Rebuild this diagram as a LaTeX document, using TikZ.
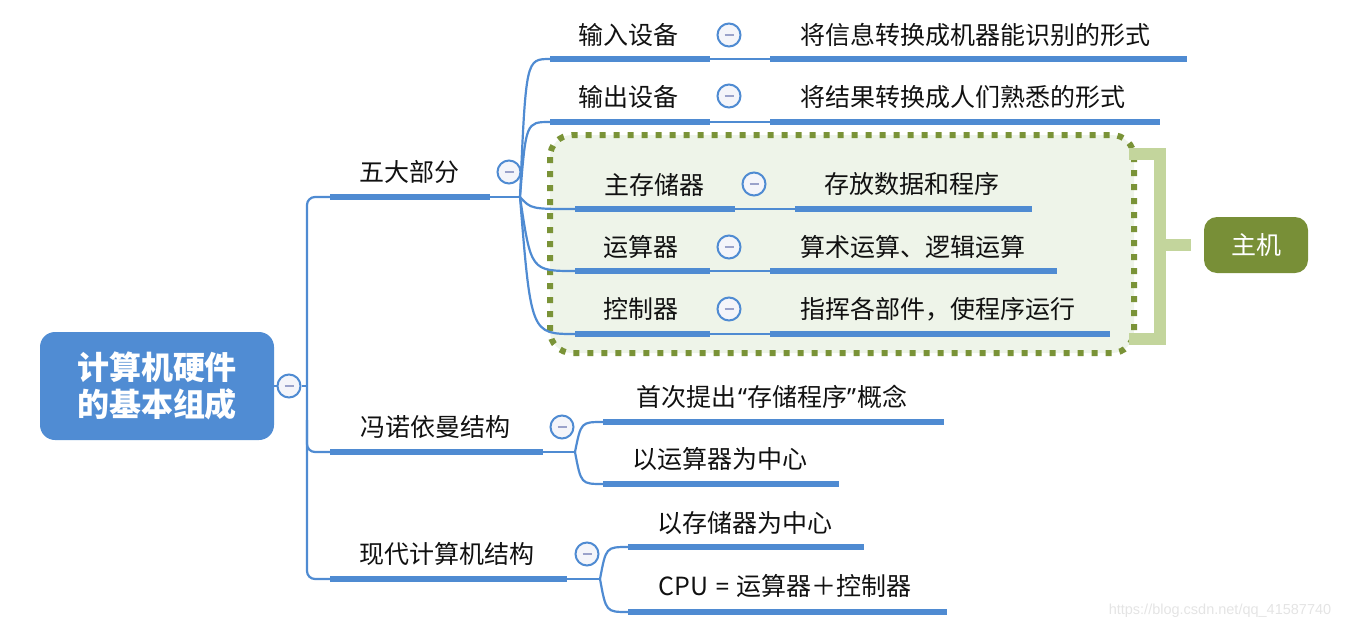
\documentclass[tikz,border=0pt]{standalone}
\usepackage{fontspec}
\newfontfamily\cjk{Noto Sans CJK SC}
\newfontfamily\latn{Noto Sans}
\newfontfamily\wmfont{Liberation Sans}
\definecolor{mblue}{HTML}{4F8BD2}
\definecolor{rootblue}{HTML}{508CD3}
\definecolor{minusc}{HTML}{9AA2CA}
\definecolor{colfill}{HTML}{F4F5FA}
\definecolor{boxfill}{HTML}{EEF4E9}
\definecolor{boxdot}{HTML}{7A9337}
\definecolor{brkc}{HTML}{C3D59C}
\definecolor{hostc}{HTML}{788F37}
\definecolor{txt}{HTML}{111111}
\definecolor{wmc}{HTML}{E4E4E4}
\begin{document}
\begin{tikzpicture}[x=1pt,y=-1pt,
  lbl/.style={font=\cjk\fontsize{25}{30}\selectfont, text=txt, inner sep=0pt},
  bar/.style={line width=6.5pt, draw=mblue, line cap=butt},
  link/.style={line width=2.2pt, draw=mblue},
  col/.style={circle, draw=mblue, line width=2pt, fill=colfill, minimum size=23pt, inner sep=0pt,
    path picture={\draw[line width=2.6pt, minusc] ([xshift=-4.5pt]path picture bounding box.center) -- ([xshift=4.5pt]path picture bounding box.center);}},
  rootbox/.style={rounded corners=15pt, fill=rootblue, minimum width=234pt, minimum height=108pt, text=white, align=center,
    font=\cjk\bfseries\fontsize{32}{36}\selectfont},
  hostbox/.style={rounded corners=13pt, fill=hostc, minimum width=104pt, minimum height=56pt, text=white,
    font=\cjk\fontsize{25}{30}\selectfont},
  dotbox/.style={draw=boxdot, fill=boxfill, line width=6pt, dash pattern=on 6pt off 8pt, rounded corners=22pt},
  brk/.style={draw=brkc, line width=12pt, line join=miter},
  wm/.style={font=\wmfont\fontsize{14.5}{16}\selectfont, text=wmc, inner sep=0pt}]
\useasboundingbox (0,0) rectangle (1350,630);

% highlighted group and summary
\draw[dotbox] (550,135) rectangle (1134,353);
\node[hostbox] (host) at (1256,245) {主机};
\draw[brk] (1129,154) -- (1160,154) -- (1160,339) -- (1129,339);
\coordinate (brkmid) at (1160,245);
\draw[brk, shorten >=13pt] (brkmid) -- (host.west);

% root
\node[rootbox] (root) at (157,386) {计算机硬件\\[1pt]的基本组成};
\node[col] (rc) at (289,386) {};
\draw[link] (root.east) -- (rc.west);

% trunk
\coordinate (A0) at (330,197); \coordinate (A1) at (490,197);
\coordinate (B0) at (330,452); \coordinate (B1) at (543,452);
\coordinate (C0) at (330,579); \coordinate (C1) at (567,579);
\draw[link, rounded corners=8pt] (A0) -- (307,197) -- (307,579) -- (C0);
\draw[link] (rc.east) -- (307,386);
\draw[link, rounded corners=8pt] (307,420) -- (307,452) -- (B0);

% level 1
\node[lbl] (tA) at (409,172) {五大部分};
\node[lbl] (tB) at (435,427) {冯诺依曼结构};
\node[lbl] (tC) at (447,554) {现代计算机结构};
\draw[bar] (A0) -- (A1);
\draw[bar] (B0) -- (B1);
\draw[bar] (C0) -- (C1);
\coordinate (bA) at (520,197);
\coordinate (bB) at (575,452);
\coordinate (bC) at (600,579);
\draw[link] (A1) -- (bA);
\draw[link] (B1) -- (bB);
\draw[link] (C1) -- (bC);
\node[col] (cA) at (509,172) {};
\node[col] (cB) at (562,427) {};
\node[col] (cC) at (587,554) {};

% level 2 under A
\coordinate (a1s) at (550,59);  \coordinate (a1e) at (710,59);  \coordinate (a1c) at (770,59);  \coordinate (a1f) at (1187,59);
\coordinate (a2s) at (550,122); \coordinate (a2e) at (710,122); \coordinate (a2c) at (770,122); \coordinate (a2f) at (1160,122);
\coordinate (a3s) at (575,209); \coordinate (a3e) at (735,209); \coordinate (a3c) at (795,209); \coordinate (a3f) at (1032,209);
\coordinate (a4s) at (575,271); \coordinate (a4e) at (710,271); \coordinate (a4c) at (770,271); \coordinate (a4f) at (1057,271);
\coordinate (a5s) at (575,334); \coordinate (a5e) at (710,334); \coordinate (a5c) at (770,334); \coordinate (a5f) at (1110,334);

\draw[link] (bA) .. controls (526,59) .. (a1s);
\draw[link] (bA) .. controls (526,122) .. (a2s);
\draw[link] (bA) .. controls (531,209) .. (a3s);
\draw[link] (bA) .. controls (531,271) .. (a4s);
\draw[link] (bA) .. controls (531,334) .. (a5s);

\foreach \i in {1,...,5}{
  \draw[bar] (a\i s) -- (a\i e);
  \draw[link] (a\i e) -- (a\i c);
  \draw[bar] (a\i c) -- (a\i f);
}
\node[lbl] (ta1) at (628,35) {输入设备};
\node[lbl] (ta2) at (628,97) {输出设备};
\node[lbl] (ta3) at (654,185) {主存储器};
\node[lbl] (ta4) at (641,247) {运算器};
\node[lbl] (ta5) at (641,309) {控制器};
\node[col] (ca1) at (729,35) {};
\node[col] (ca2) at (729,96) {};
\node[col] (ca3) at (754,184) {};
\node[col] (ca4) at (729,247) {};
\node[col] (ca5) at (729,309) {};
\node[lbl] (da1) at (975,35) {将信息转换成机器能识别的形式};
\node[lbl] (da2) at (963,97) {将结果转换成人们熟悉的形式};
\node[lbl] (da3) at (912,184) {存放数据和程序};
\node[lbl] (da4) at (913,247) {算术运算、逻辑运算};
\node[lbl] (da5) at (938,309) {指挥各部件，使程序运行};

% level 2 under B
\coordinate (b1s) at (603,422); \coordinate (b1f) at (944,422);
\coordinate (b2s) at (603,484); \coordinate (b2f) at (839,484);
\draw[link] (bB) .. controls (581,422) .. (b1s);
\draw[link] (bB) .. controls (581,484) .. (b2s);
\draw[bar] (b1s) -- (b1f);
\draw[bar] (b2s) -- (b2f);
\node[lbl] (tb1) at (772,397) {首次提出\kern2pt{\latn “}存储程序{\latn ”}\kern2pt 概念};
\node[lbl] (tb2) at (720,459) {以运算器为中心};

% level 2 under C
\coordinate (c1s) at (628,547); \coordinate (c1f) at (864,547);
\coordinate (c2s) at (628,612); \coordinate (c2f) at (947,612);
\draw[link] (bC) .. controls (606,547) .. (c1s);
\draw[link] (bC) .. controls (606,612) .. (c2s);
\draw[bar] (c1s) -- (c1f);
\draw[bar] (c2s) -- (c2f);
\node[lbl] (tc1) at (745,523) {以存储器为中心};
\node[lbl] (tc2) at (785,586) {CPU{\latn\ =\ }运算器＋控制器};

% watermark
\node[wm] (wmk) at (1220,611) {https://blog.csdn.net/qq\_41587740};
\end{tikzpicture}
\end{document}
